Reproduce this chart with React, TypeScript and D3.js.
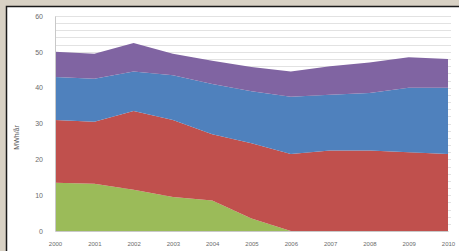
import React, { useEffect, useRef } from 'react';
import * as d3 from 'd3';

const years = ['2000', '2001', '2002', '2003', '2004', '2005', '2006', '2007', '2008', '2009', '2010'];
const green = [13.5, 13.2, 11.5, 9.5, 8.5, 3.5, 0, 0, 0, 0, 0];
const red = [17.5, 17.3, 22, 21.5, 18.5, 21, 21.5, 22.5, 22.5, 22, 21.5];
const blue = [12, 12, 11, 12.5, 14, 14.5, 16, 15.5, 16, 18, 18.5];
const purple = [7, 7, 8, 6, 6.5, 6.8, 7, 8, 8.5, 8.5, 8];
const yTicks = [0, 10, 20, 30, 40, 50, 60];
const yLabel = 'MWh/år';

const keys = ['green', 'red', 'blue', 'purple'];
const colors = { green: '#9bbb59', red: '#c0504d', blue: '#4f81bd', purple: '#8064a2' };

export default function App() {
  const ref = useRef(null);
  const width = 459,
    height = 251;
  const margin = { top: 16, right: 11, bottom: 20, left: 55 };

  useEffect(() => {
    const svg = d3.select(ref.current);
    svg.selectAll('*').remove();

    const rows = years.map((yr, i) => ({
      year: yr,
      green: green[i],
      red: red[i],
      blue: blue[i],
      purple: purple[i],
    }));

    const x = d3
      .scalePoint()
      .domain(years)
      .range([margin.left, width - margin.right]);

    const y = d3
      .scaleLinear()
      .domain([0, 60])
      .range([height - margin.bottom, margin.top]);

    // page background and framed white panel
    svg.append('rect').attr('width', width).attr('height', height).attr('fill', '#d8d1c4');
    svg
      .append('rect')
      .attr('x', 6.5)
      .attr('y', 6.5)
      .attr('width', width + 10)
      .attr('height', height + 10)
      .attr('fill', '#fff')
      .attr('stroke', '#1a1a1a')
      .attr('stroke-width', 1.5);

    // minor gridlines every 2 units
    svg
      .append('g')
      .selectAll('line')
      .data(d3.range(2, 61, 2))
      .join('line')
      .attr('x1', margin.left)
      .attr('x2', width - margin.right + 3)
      .attr('y1', (d) => Math.round(y(d)) + 0.5)
      .attr('y2', (d) => Math.round(y(d)) + 0.5)
      .attr('stroke', '#e2e2e2')
      .attr('stroke-width', 1);

    const stack = d3.stack().keys(keys);
    const series = stack(rows);

    const area = d3
      .area()
      .x((d) => x(d.data.year))
      .y0((d) => y(d[0]))
      .y1((d) => y(d[1]));

    svg
      .append('g')
      .selectAll('path')
      .data(series)
      .join('path')
      .attr('fill', (s) => colors[s.key])
      .attr('d', area);

    // axes
    const yAxis = svg
      .append('g')
      .attr('transform', `translate(${margin.left},0)`)
      .call(d3.axisLeft(y).tickValues(yTicks).tickSize(0).tickPadding(12));
    yAxis.select('.domain').attr('stroke', '#c8c8c8');
    yAxis
      .selectAll('text')
      .attr('fill', '#6b6b6b')
      .attr('font-size', 7)
      .attr('font-family', 'Liberation Sans, Arial, sans-serif');

    const xAxis = svg
      .append('g')
      .attr('transform', `translate(0,${height - margin.bottom})`)
      .call(d3.axisBottom(x).tickSize(0).tickPadding(11));
    xAxis.select('.domain').attr('stroke', '#c8c8c8');
    xAxis
      .selectAll('text')
      .attr('fill', '#6b6b6b')
      .attr('font-size', 6)
      .attr('font-family', 'Liberation Sans, Arial, sans-serif');

    svg
      .append('text')
      .attr('transform', `translate(19,${(y(30) + y(20)) / 2 - 4}) rotate(-90)`)
      .attr('text-anchor', 'middle')
      .attr('fill', '#555')
      .attr('font-size', 7)
      .attr('font-family', 'Liberation Sans, Arial, sans-serif')
      .text(yLabel);
  }, []);

  return (
    <svg
      ref={ref}
      width={width}
      height={height}
      style={{ position: 'fixed', left: 0, top: 0, display: 'block' }}
    />
  );
}
